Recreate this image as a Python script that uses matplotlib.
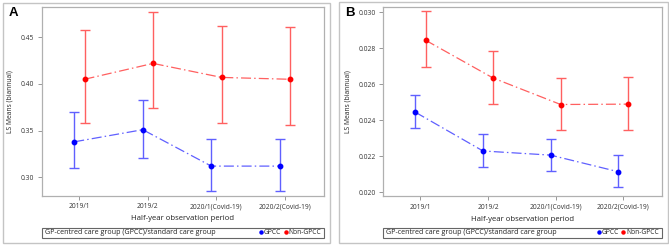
import matplotlib.pyplot as plt
from matplotlib.patches import Rectangle
from matplotlib.lines import Line2D

plt.rcParams['font.family'] = ['Open Sans', 'DejaVu Sans']

# Data
periods = ['2019/1', '2019/2', '2020/1(Covid-19)', '2020/2(Covid-19)']

a_gpcc = [0.338, 0.351, 0.312, 0.312]
a_gpcc_lo = [0.310, 0.321, 0.285, 0.285]
a_gpcc_hi = [0.370, 0.383, 0.341, 0.341]
a_non = [0.405, 0.422, 0.407, 0.405]
a_non_lo = [0.358, 0.374, 0.358, 0.356]
a_non_hi = [0.458, 0.477, 0.462, 0.461]

b_gpcc = [0.02445, 0.02230, 0.02207, 0.02115]
b_gpcc_lo = [0.02355, 0.02142, 0.02120, 0.02032]
b_gpcc_hi = [0.02542, 0.02322, 0.02297, 0.02205]
b_non = [0.02845, 0.02635, 0.02488, 0.02490]
b_non_lo = [0.02697, 0.02493, 0.02348, 0.02345]
b_non_hi = [0.03005, 0.02785, 0.02635, 0.02643]

W, H = 669, 245
fig = plt.figure(figsize=(W / 100, H / 100), dpi=100)


def px_rect(x0, y0, x1, y1):
    # pixel box (top-left origin) -> figure fraction [l, b, w, h]
    return [x0 / W, 1 - y1 / H, (x1 - x0) / W, (y1 - y0) / H]


def panel(box, frame, legbox, letter, gp, gp_lo, gp_hi, non, non_lo, non_hi,
          ylim, yticks, fmt):
    # outer gray frame
    l, b, w, h = px_rect(*frame)
    fig.patches.append(Rectangle((l, b), w, h, transform=fig.transFigure,
                                 fill=False, edgecolor='#c4c4c4', linewidth=1.0))
    ax = fig.add_axes(px_rect(*box))
    x = list(range(len(periods)))
    off = 0.075
    series = [(gp, gp_lo, gp_hi, -off, '#0000ff', '#6060ff'),
              (non, non_lo, non_hi, off, '#ff0000', '#ff6060')]
    for vals, lo, hi, dx, col, ecol in series:
        xs = [i + dx for i in x]
        err = [[v - l_ for v, l_ in zip(vals, lo)], [h_ - v for v, h_ in zip(vals, hi)]]
        ax.errorbar(xs, vals, yerr=err, fmt='none', ecolor=ecol, elinewidth=1.0,
                    capsize=3.5, capthick=1.0)
        ax.plot(xs, vals, color=ecol, linestyle=(0, (8, 2.5, 1.2, 2.5)), linewidth=0.9,
                marker='o', markersize=3.2, markerfacecolor=col, markeredgecolor=col)
    ax.set_xlim(-0.55, 3.57)
    ax.set_ylim(*ylim)
    ax.set_xticks(x)
    ax.set_xticklabels(periods, fontsize=4.8, color='#333333')
    ax.set_yticks(yticks)
    ax.set_yticklabels([fmt.format(v) for v in yticks], fontsize=4.9, color='#333333')
    ax.tick_params(length=3, width=0.6, color='#888888', pad=2.5)
    for s in ax.spines.values():
        s.set_color('#b0b0b0')
        s.set_linewidth(0.9)
    ax.set_xlabel('Half-year observation period', fontsize=5.6, color='#222222', labelpad=3.5)
    ax.set_ylabel('LS Means (biannual)', fontsize=4.9, color='#222222', labelpad=5)
    fl, fb, fw, fh = px_rect(*frame)
    fig.text(fl + 6 / W, 1 - 13 / H, letter, fontsize=9.5, fontweight='bold',
             family=['Liberation Sans', 'DejaVu Sans'], va='center', ha='left')

    # legend box
    ll, lb, lw, lh = px_rect(*legbox)
    fig.patches.append(Rectangle((ll, lb), lw, lh, transform=fig.transFigure,
                                 fill=False, edgecolor='#666666', linewidth=0.8))
    fig.text(ll + 3 / W, lb + lh / 2, 'GP-centred care group (GPCC)/standard care group',
             fontsize=5.1, color='#222222', va='center', ha='left')
    handles = [Line2D([], [], linestyle='none', marker='o', markersize=2.2, color='#0000ff'),
               Line2D([], [], linestyle='none', marker='o', markersize=2.2, color='#ff0000')]
    fig.legend(handles, ['GPCC', 'Non-GPCC'], loc='center right',
               bbox_to_anchor=(ll + lw - 3 / W, lb + lh / 2), ncol=2, frameon=False,
               fontsize=4.9, handlelength=0.4, handletextpad=0.2, columnspacing=0.4,
               borderpad=0, borderaxespad=0, labelcolor='#222222')


panel((41.7, 7.3, 324, 195.7), (2.7, 2.7, 330, 243), (41.7, 227.5, 324, 237.8), 'A',
      a_gpcc, a_gpcc_lo, a_gpcc_hi, a_non, a_non_lo, a_non_hi,
      (0.2803, 0.4821), [0.30, 0.35, 0.40, 0.45], '{:.2f}')
panel((383.3, 6.7, 661.7, 196), (339.3, 1.7, 668.3, 243), (383.3, 227.5, 661.7, 237.8), 'B',
      b_gpcc, b_gpcc_lo, b_gpcc_hi, b_non, b_non_lo, b_non_hi,
      (0.0198, 0.03031), [0.020, 0.022, 0.024, 0.026, 0.028, 0.030], '{:.3f}')

fig.savefig('out.png', dpi=100)
